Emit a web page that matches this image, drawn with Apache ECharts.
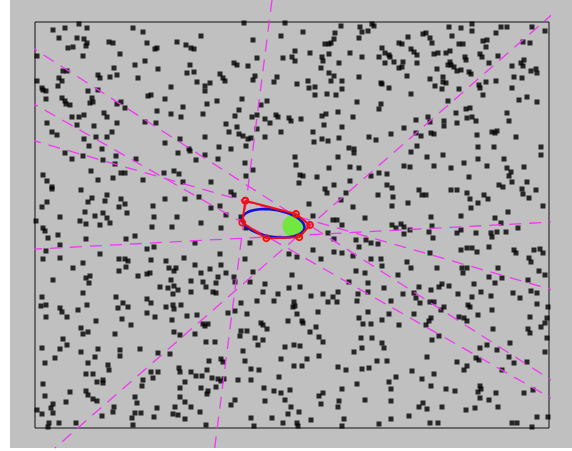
<!DOCTYPE html>
<html>
<head>
<meta charset="utf-8">
<script src="https://cdn.jsdelivr.net/npm/echarts@6/dist/echarts.min.js"></script>
<style>
html,body{margin:0;padding:0;background:#fff;}
#wrap{position:relative;width:572px;height:451px;overflow:hidden;background:#fff;}
#canvasBg{position:absolute;left:10px;top:0;width:562px;height:448px;background:#c0c0c0;}
#chart{position:absolute;left:0;top:0;width:572px;height:451px;}
</style>
</head>
<body>
<div id="wrap"><div id="canvasBg"></div><div id="chart"></div></div>
<script>
// Scatter dots (x, y in picture units; y grows downward)
const dotsTop = [
[53,30],[65,28],[79,24],[87,28],[59,38],[77,38],[84,39],[87,43],[86,46],[68,48],[73,47],[109,42],[113,43],[120,54],[133,28],[143,32],[147,43],[37,56],[83,56],[145,61],[135,65],[114,68],[63,71],[67,71],[98,75],[100,78],[110,77],[117,75],[59,78],[62,81],[37,81],[138,78],[58,86],[42,88],[43,90],[46,91],[88,91],[98,90],[92,98],[90,103],[93,102],[46,99],[62,98],[65,101],[66,104],[70,105],[117,104],[121,102],[125,108],[148,96],[104,113],[107,117],[72,117],[79,117],[84,115],[47,123],[94,126],[77,125],[117,123],[145,122],[52,132],[57,135],[96,137],[107,137],[112,132],[84,139],[89,146],[102,149],
[244,23],[285,23],[201,36],[177,42],[186,45],[191,48],[194,49],[155,49],[157,48],[253,40],[281,36],[257,58],[283,58],[190,65],[234,63],[237,65],[248,66],[158,69],[187,73],[194,72],[220,74],[223,78],[225,81],[255,76],[253,80],[277,77],[274,82],[197,82],[210,83],[205,86],[205,91],[171,87],[151,95],[165,99],[217,101],[242,99],[267,101],[261,105],[207,104],[183,107],[157,111],[171,114],[181,117],[203,114],[239,110],[235,116],[252,117],[257,115],[265,119],[276,115],[278,117],[270,123],[226,124],[237,127],[229,132],[257,129],[281,132],[156,123],[239,134],[243,136],[248,139],[251,138],[265,137],[246,146],[205,137],[180,139],[165,143],[219,147],[231,149],[189,149],
[341,26],[360,27],[362,32],[368,31],[372,24],[374,26],[303,32],[335,33],[359,38],[334,39],[408,37],[423,34],[325,44],[329,44],[331,43],[295,51],[310,53],[329,54],[350,53],[362,57],[379,57],[382,48],[385,53],[389,55],[390,57],[399,43],[402,44],[411,49],[414,52],[417,55],[292,57],[295,61],[322,57],[323,61],[339,63],[385,63],[394,62],[403,62],[399,68],[402,67],[417,63],[321,68],[329,73],[334,76],[342,81],[331,81],[359,77],[407,76],[308,81],[297,84],[309,88],[315,87],[381,83],[382,84],[389,88],[342,89],[315,95],[327,94],[336,95],[411,94],[357,102],[381,104],[379,109],[338,112],[322,116],[326,114],[353,117],[289,118],[291,121],[301,119],[324,125],[342,127],[313,132],[404,128],[391,134],[416,120],[322,139],[314,142],[328,141],[339,138],[369,137],[376,140],[417,146],[349,148],[354,149],[416,133],[421,136],
[449,27],[461,28],[472,24],[472,31],[501,27],[507,27],[532,27],[545,31],[496,33],[426,33],[430,38],[432,43],[452,36],[459,44],[463,44],[483,41],[487,40],[486,47],[523,42],[530,43],[434,54],[438,53],[446,53],[450,51],[465,57],[466,60],[480,54],[482,57],[498,56],[450,62],[451,65],[448,65],[454,67],[457,71],[461,70],[469,72],[471,74],[489,63],[524,60],[521,63],[523,66],[512,66],[531,71],[536,69],[537,73],[437,69],[430,79],[443,77],[443,82],[446,83],[435,86],[442,89],[459,89],[479,85],[480,88],[486,82],[496,81],[514,77],[522,78],[512,88],[483,95],[448,101],[519,100],[527,97],[537,102],[466,109],[470,108],[456,113],[467,118],[472,117],[476,121],[507,113],[509,121],[428,117],[430,122],[444,121],[444,126],[457,123],[431,133],[434,134],[477,135],[492,132],[497,131],[495,133],[516,137],[478,147],[494,147],[541,147]
];
const dotsMiddle = [
[65,153],[72,159],[83,156],[103,160],[116,156],[115,164],[121,173],[125,173],[136,159],[143,180],[43,175],[47,181],[52,187],[52,189],[91,171],[98,180],[113,178],[81,190],[107,195],[92,198],[88,202],[105,201],[121,199],[125,204],[119,207],[47,202],[42,207],[85,212],[103,213],[95,216],[107,218],[110,223],[127,213],[60,217],[36,221],[80,221],[86,224],[100,225],[43,228],[45,231],[58,235],[48,238],[86,239],[126,239],[135,236],[60,245],[46,251],[147,249],[100,254],[43,259],[60,258],[83,263],[119,259],[125,259],[128,261],[126,267],[73,268],[119,271],[53,280],[86,278],[90,276],[89,283],[138,276],[147,274],[83,293],[42,297],[116,297],[147,299],
[178,153],[190,151],[205,155],[218,159],[196,160],[245,163],[253,170],[164,173],[174,171],[179,174],[183,182],[211,182],[246,176],[231,192],[234,195],[199,197],[185,199],[165,199],[153,206],[211,208],[220,206],[154,217],[177,217],[226,215],[241,217],[201,223],[152,227],[172,227],[221,228],[246,228],[195,243],[250,243],[154,247],[220,254],[184,258],[245,259],[151,260],[166,261],[169,268],[176,268],[174,271],[195,265],[210,269],[221,265],[150,273],[201,273],[218,277],[226,273],[234,277],[253,272],[171,280],[191,281],[203,282],[206,287],[216,283],[235,282],[250,282],[265,284],[160,287],[168,288],[174,286],[178,290],[173,294],[191,292],[213,292],[216,293],[263,292],[278,294],
[295,157],[338,157],[354,153],[411,152],[296,165],[329,168],[350,167],[359,168],[371,176],[379,173],[387,174],[404,166],[410,167],[300,175],[303,176],[317,177],[350,181],[299,183],[325,189],[327,193],[334,185],[346,193],[378,195],[387,185],[392,188],[393,197],[419,190],[422,195],[309,204],[341,200],[353,207],[392,206],[408,203],[313,216],[365,218],[333,220],[337,220],[342,225],[392,225],[396,228],[401,224],[404,227],[410,230],[404,234],[328,233],[334,239],[356,240],[366,240],[371,243],[378,244],[313,250],[334,252],[342,253],[353,256],[359,247],[289,254],[297,257],[321,259],[371,259],[381,259],[382,266],[407,262],[411,268],[292,275],[356,271],[365,273],[398,275],[349,282],[368,283],[419,287],[289,288],[300,287],[311,296],[323,294],[333,297],[338,292],[358,294],[368,292],[384,288],[403,294],[414,293],[416,298],
[427,157],[443,155],[434,166],[451,168],[464,163],[478,159],[487,166],[504,159],[524,167],[541,155],[507,168],[511,172],[509,176],[469,177],[512,182],[499,185],[503,187],[527,182],[451,190],[457,190],[467,193],[484,195],[488,199],[522,189],[523,194],[536,190],[529,198],[426,195],[470,199],[478,203],[471,208],[508,212],[543,206],[431,217],[461,216],[495,218],[501,223],[518,228],[432,226],[429,232],[433,238],[457,233],[461,230],[476,233],[491,233],[497,232],[492,237],[506,232],[489,247],[467,248],[472,248],[477,252],[461,250],[514,250],[516,253],[534,250],[540,249],[543,253],[529,258],[531,262],[430,253],[437,268],[462,268],[463,273],[467,268],[498,268],[539,271],[545,275],[489,277],[502,278],[528,280],[474,284],[495,283],[439,287],[442,284],[449,286],[431,290],[458,294],[481,292],[491,296],[513,293],[531,291],[537,293],[472,297],[520,298]
];
const dotsBottom = [
[41,306],[46,305],[60,308],[62,312],[67,317],[78,310],[87,305],[118,308],[123,303],[128,307],[46,317],[96,321],[122,319],[131,325],[147,313],[81,328],[83,334],[88,332],[115,334],[63,339],[67,345],[60,349],[42,348],[81,352],[98,349],[95,357],[120,350],[120,356],[140,349],[55,358],[45,363],[88,363],[108,365],[109,370],[86,374],[93,374],[97,382],[103,380],[103,383],[43,384],[70,392],[86,391],[88,395],[93,399],[97,401],[143,380],[142,386],[45,396],[53,404],[66,402],[51,408],[53,413],[37,410],[42,414],[114,407],[113,412],[102,416],[135,397],[137,403],[135,413],[141,413],[49,423],[48,427],[59,423],[76,423],[132,418],[133,425],
[151,303],[166,307],[173,305],[181,305],[174,309],[155,317],[172,320],[187,316],[197,315],[203,324],[208,324],[205,326],[228,313],[235,311],[241,303],[247,314],[257,301],[274,301],[174,332],[180,335],[195,334],[206,342],[215,342],[241,331],[247,331],[240,336],[255,338],[261,323],[263,325],[267,329],[258,345],[263,340],[158,353],[170,354],[243,351],[285,347],[209,361],[221,359],[223,362],[245,361],[281,359],[179,368],[180,372],[191,372],[151,372],[158,372],[153,378],[196,376],[202,376],[207,370],[212,378],[218,379],[221,381],[224,379],[238,380],[251,380],[251,369],[259,370],[279,377],[185,382],[180,388],[201,388],[208,391],[207,394],[216,387],[264,388],[274,391],[281,393],[180,397],[185,402],[191,407],[175,407],[157,408],[200,412],[231,405],[235,400],[265,401],[285,400],[173,414],[178,415],[154,417],[185,419],[206,425],[251,418],[272,418],[254,426],[283,423],
[294,302],[293,307],[295,306],[328,302],[337,302],[357,301],[391,301],[420,303],[297,314],[318,312],[302,321],[303,323],[368,312],[382,320],[389,314],[414,314],[359,318],[363,324],[371,324],[399,325],[288,321],[316,327],[310,332],[319,337],[323,342],[361,338],[372,338],[382,343],[384,348],[362,348],[354,352],[294,345],[300,346],[319,356],[307,359],[377,361],[387,361],[294,366],[302,366],[338,367],[346,370],[362,369],[369,368],[412,371],[396,377],[422,379],[357,384],[389,382],[290,390],[342,389],[391,389],[319,396],[323,393],[339,401],[365,400],[391,401],[423,403],[321,404],[338,407],[291,407],[419,407],[299,412],[409,416],[344,419],[311,420],[391,419],[288,414],[297,423],[298,426],[342,426],[379,424],
[430,302],[434,302],[441,310],[444,307],[468,305],[470,307],[478,315],[492,310],[537,304],[548,307],[530,317],[547,318],[545,323],[541,327],[431,318],[429,321],[426,325],[459,317],[464,318],[467,321],[493,329],[528,329],[530,333],[439,336],[432,340],[510,343],[487,345],[497,350],[480,348],[547,338],[545,352],[427,357],[457,362],[467,366],[464,370],[476,358],[479,360],[509,357],[514,363],[527,362],[502,370],[434,374],[431,386],[446,389],[455,391],[480,386],[481,389],[478,392],[496,393],[524,393],[533,390],[480,398],[489,400],[427,409],[442,407],[466,410],[475,408],[498,407],[537,417],[548,417],[430,423],[438,423],[512,423],[517,423],[532,427]
];
// Dashed magenta lines: endpoints where each meets the edge of the grey canvas
const lineA = [[10,33.4],[572,393.4]];
const lineB = [[10,90.3],[572,410]];
const lineC = [[10,133.9],[572,295.4]];
const lineD = [[10,250.4],[572,221]];
const lineE = [[272,0],[214.7,448]];
const lineF = [[568.7,0],[54.9,448]];
// Red polygon vertices
const polygonPts = [[245.3,200.7],[296,214],[310,225],[299.3,237.3],[266.3,238.3],[242.3,222.7],[245.3,200.7]];
// Blue ellipse: centre x, centre y, semi-major, semi-minor, tilt (deg)
const ellipseParams = [[273.3,223.3,31.5,13.5,9]];
// Green disk centre
const greenCentre = [[293.5,226]];

const chart = echarts.init(document.getElementById('chart'), null, {renderer:'canvas'});
const magenta = '#f038f0';
function dashed(d){
  return {type:'line', data:d, symbol:'none', silent:true, clip:false, z:3,
    lineStyle:{color:magenta, width:1.3, type:[12,8]}, animation:false};
}
function dots(d){
  return {type:'scatter', data:d, symbol:'rect', symbolSize:5, clip:false, silent:true, z:2,
    itemStyle:{color:'#000'}, animation:false};
}
chart.setOption({
  animation:false,
  backgroundColor:'transparent',
  grid:{left:35, top:22, width:514, height:406, show:true, borderColor:'#111', borderWidth:1, backgroundColor:'transparent'},
  xAxis:{type:'value', min:35, max:549, show:false},
  yAxis:{type:'value', min:22, max:428, inverse:true, show:false},
  series:[
    dots(dotsTop), dots(dotsMiddle), dots(dotsBottom),
    dashed(lineA), dashed(lineB), dashed(lineC), dashed(lineD), dashed(lineE), dashed(lineF),
    {type:'scatter', data:greenCentre, symbol:'circle', symbolSize:22, silent:true, z:4,
     itemStyle:{color:'#5ef01e'}},
    {type:'custom', data:ellipseParams, silent:true, z:5, clip:false,
     renderItem:function(params, api){
       const cx=api.value(0), cy=api.value(1), a=api.value(2), b=api.value(3), ang=api.value(4)*Math.PI/180;
       const pts=[];
       for(let i=0;i<96;i++){
         const t=i/96*2*Math.PI;
         const x=cx + a*Math.cos(t)*Math.cos(ang) - b*Math.sin(t)*Math.sin(ang);
         const y=cy + a*Math.cos(t)*Math.sin(ang) + b*Math.sin(t)*Math.cos(ang);
         pts.push(api.coord([x,y]));
       }
       return {type:'polygon', shape:{points:pts}, style:{fill:null, stroke:'#1010d8', lineWidth:2.6}};
     }},
    {type:'line', data:polygonPts, symbol:'circle', symbolSize:6, showSymbol:true, silent:true, z:6, clip:false,
     lineStyle:{color:'#f01010', width:2},
     itemStyle:{color:'rgba(0,0,0,0)', borderColor:'#f01010', borderWidth:1.8}}
  ]
});
</script>
</body>
</html>
